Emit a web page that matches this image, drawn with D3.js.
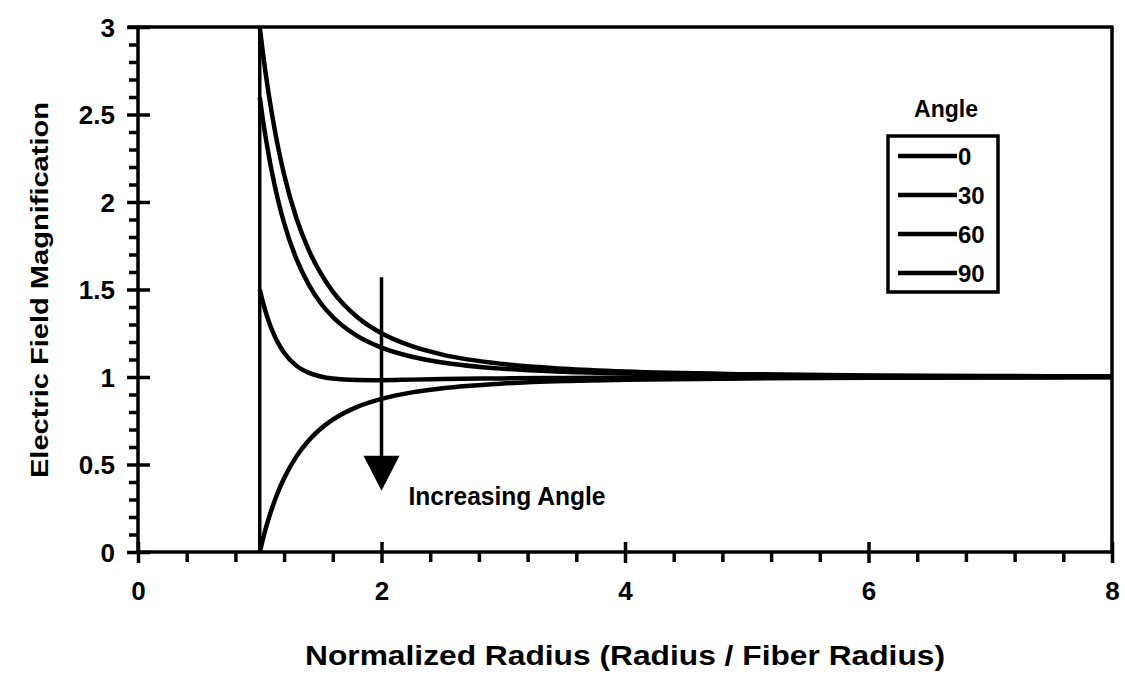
<!DOCTYPE html>
<html>
<head>
<meta charset="utf-8">
<script src="https://cdn.jsdelivr.net/npm/d3@7"></script>
<style>
  html, body { margin: 0; padding: 0; background: #fff; }
  svg { display: block; font-family: "Liberation Sans", Arial, sans-serif; }
</style>
</head>
<body>
<svg id="chart" width="1125" height="675"></svg>
<script>
// ---------- data ----------
const radius = [1, 1.025, 1.05, 1.075, 1.1, 1.15, 1.2, 1.3, 1.4, 1.5, 1.6, 1.8, 2, 2.25, 2.5, 3, 3.5, 4, 5, 6, 7, 8];
const angle0  = [3.0, 2.857, 2.728, 2.61, 2.503, 2.315, 2.157, 1.91, 1.729, 1.593, 1.488, 1.343, 1.25, 1.176, 1.128, 1.074, 1.047, 1.031, 1.016, 1.009, 1.006, 1.004];
const angle30 = [2.598, 2.474, 2.363, 2.262, 2.171, 2.012, 1.88, 1.676, 1.531, 1.423, 1.343, 1.235, 1.168, 1.116, 1.083, 1.047, 1.03, 1.02, 1.01, 1.006, 1.004, 1.002];
const angle60 = [1.5, 1.43, 1.369, 1.316, 1.27, 1.195, 1.139, 1.065, 1.025, 1.003, 0.991, 0.983, 0.982, 0.985, 0.988, 0.992, 0.995, 0.996, 0.998, 0.999, 0.999, 1.0];
const angle90 = [0, 0.071, 0.136, 0.195, 0.249, 0.343, 0.421, 0.545, 0.636, 0.704, 0.756, 0.829, 0.875, 0.912, 0.936, 0.963, 0.977, 0.984, 0.992, 0.995, 0.997, 0.998];
const seriesNames = ["0", "30", "60", "90"];
const fiberEdgeX = [1, 1];
const fiberEdgeY = [0, 3];
const arrowX = [2, 2];
const arrowY = [1.57, 0.35];
const xMajorTicks = [0, 2, 4, 6, 8];
const xMinorTicks = [0.4, 0.8, 1.2, 1.6, 2.4, 2.8, 3.2, 3.6, 4.4, 4.8, 5.2, 5.6, 6.4, 6.8, 7.2, 7.6];
const yMajorTicks = [0, 0.5, 1, 1.5, 2, 2.5, 3];
const yMinorTicks = [0.1,0.2,0.3,0.4,0.6,0.7,0.8,0.9,1.1,1.2,1.3,1.4,1.6,1.7,1.8,1.9,2.1,2.2,2.3,2.4,2.6,2.7,2.8,2.9];
const yTickLabels = ["0", "0.5", "1", "1.5", "2", "2.5", "3"];
const xTickLabels = ["0", "2", "4", "6", "8"];
const xTitle = "Normalized Radius (Radius / Fiber Radius)";
const yTitle = "Electric Field Magnification";
const legendTitle = "Angle";
const annotation = "Increasing Angle";

// ---------- layout ----------
const svg = d3.select("#chart");
const L = 138, R = 1112, T = 27, B = 552;
const x = d3.scaleLinear().domain([0, 8]).range([L, R]);
const y = d3.scaleLinear().domain([0, 3]).range([B, T]);
const AX = 3.5;

function styleAxis(g) {
  g.selectAll("path").remove();
  g.selectAll("line").attr("stroke", "#000").attr("stroke-width", AX);
}

// minor x ticks (outward)
svg.append("g").attr("transform", `translate(0,${B})`)
  .call(d3.axisBottom(x).tickValues(xMinorTicks).tickSize(10).tickFormat(""))
  .call(styleAxis);
// major x ticks (outward + inward)
svg.append("g").attr("transform", `translate(0,${B})`)
  .call(d3.axisBottom(x).tickValues(xMajorTicks).tickSize(11).tickPadding(19)
        .tickFormat((d, i) => xTickLabels[i]))
  .call(styleAxis)
  .call(g => g.selectAll("text").attr("font-size", 26).attr("font-weight", "bold").attr("fill", "#000"));
svg.append("g").attr("transform", `translate(0,${B})`)
  .call(d3.axisTop(x).tickValues(xMajorTicks).tickSize(10).tickFormat(""))
  .call(styleAxis);

// minor y ticks
svg.append("g").attr("transform", `translate(${L},0)`)
  .call(d3.axisLeft(y).tickValues(yMinorTicks).tickSize(9).tickFormat(""))
  .call(styleAxis);
// major y ticks
svg.append("g").attr("transform", `translate(${L},0)`)
  .call(d3.axisLeft(y).tickValues(yMajorTicks).tickSize(11).tickPadding(12)
        .tickFormat((d, i) => yTickLabels[i]))
  .call(styleAxis)
  .call(g => g.selectAll("text").attr("font-size", 26).attr("font-weight", "bold").attr("fill", "#000").attr("dy", "0.36em"));
svg.append("g").attr("transform", `translate(${L},0)`)
  .call(d3.axisRight(y).tickValues(yMajorTicks).tickSize(12).tickFormat(""))
  .call(styleAxis);

// frame
const frame = svg.append("g").attr("stroke", "#000").attr("stroke-width", AX).attr("fill", "none");
frame.append("line").attr("x1", L).attr("x2", R).attr("y1", B).attr("y2", B);
frame.append("line").attr("x1", L).attr("x2", L).attr("y1", B).attr("y2", T);
frame.append("line").attr("x1", L - 10).attr("x2", R + 1.5).attr("y1", T).attr("y2", T);
frame.append("line").attr("x1", R).attr("x2", R).attr("y1", T).attr("y2", B + 1.5);

// fiber edge vertical line
svg.append("line")
  .attr("x1", x(fiberEdgeX[0])).attr("x2", x(fiberEdgeX[1]))
  .attr("y1", y(fiberEdgeY[0])).attr("y2", y(fiberEdgeY[1]))
  .attr("stroke", "#000").attr("stroke-width", 3.5);

// curves
const allSeries = [angle0, angle30, angle60, angle90];
const line = d3.line().x(d => x(d[0])).y(d => y(d[1])).curve(d3.curveMonotoneX);
allSeries.forEach(vals => {
  svg.append("path")
    .datum(radius.map((r, i) => [r, vals[i]]))
    .attr("d", line)
    .attr("fill", "none").attr("stroke", "#000").attr("stroke-width", 4.5)
    .attr("stroke-linejoin", "round");
});

// arrow annotation
const ax0 = x(arrowX[0]), ay0 = y(arrowY[0]), ay1 = y(arrowY[1]);
const headH = 35, headW = 18;
svg.append("line").attr("x1", ax0).attr("x2", ax0).attr("y1", ay0).attr("y2", ay1 - headH + 2)
  .attr("stroke", "#000").attr("stroke-width", 3.5);
svg.append("path")
  .attr("d", `M${ax0 - headW},${ay1 - headH} L${ax0 + headW},${ay1 - headH} L${ax0},${ay1} Z`)
  .attr("fill", "#000");
svg.append("text").attr("x", ax0 + 27).attr("y", ay1 + 14)
  .attr("font-size", 25).attr("font-weight", "bold").attr("textLength", 197)
  .attr("lengthAdjust", "spacingAndGlyphs").text(annotation);

// legend
svg.append("text").attr("x", 946).attr("y", 117).attr("text-anchor", "middle")
  .attr("font-size", 23).attr("font-weight", "bold").text(legendTitle);
svg.append("rect").attr("x", 888).attr("y", 136).attr("width", 110).attr("height", 156)
  .attr("fill", "none").attr("stroke", "#000").attr("stroke-width", 3.5);
seriesNames.forEach((name, i) => {
  const ly = 156 + i * 39;
  svg.append("line").attr("x1", 898).attr("x2", 957).attr("y1", ly).attr("y2", ly)
    .attr("stroke", "#000").attr("stroke-width", 4.5);
  svg.append("text").attr("x", 958).attr("y", ly + 9).attr("font-size", 24).attr("font-weight", "bold").text(name);
});

// axis titles
svg.append("text").attr("x", (L + R) / 2).attr("y", 665).attr("text-anchor", "middle")
  .attr("font-size", 28).attr("font-weight", "bold")
  .attr("textLength", 640).attr("lengthAdjust", "spacingAndGlyphs").text(xTitle);
svg.append("text").attr("transform", `translate(48,290) rotate(-90)`).attr("text-anchor", "middle")
  .attr("font-size", 23).attr("font-weight", "bold")
  .attr("textLength", 376).attr("lengthAdjust", "spacingAndGlyphs").text(yTitle);
</script>
</body>
</html>
